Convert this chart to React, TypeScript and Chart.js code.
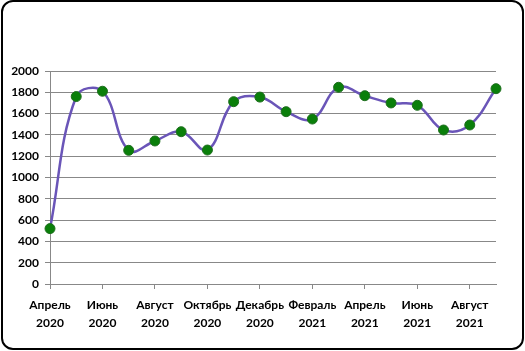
import React, { useEffect, useRef } from "react";
import { Chart, registerables } from "chart.js";

Chart.register(...registerables);

const months = ["Апрель", "Май", "Июнь", "Июль", "Август", "Сентябрь", "Октябрь", "Ноябрь", "Декабрь", "Январь", "Февраль", "Март", "Апрель", "Май", "Июнь", "Июль", "Август", "Сентябрь"];
const years = ["2020", "2020", "2020", "2020", "2020", "2020", "2020", "2020", "2020", "2021", "2021", "2021", "2021", "2021", "2021", "2021", "2021", "2021"];
const values = [520, 1760, 1810, 1255, 1343, 1430, 1258, 1712, 1755, 1618, 1549, 1847, 1768, 1700, 1678, 1446, 1493, 1834];
const yTicks = { min: 0, max: 2000, step: 200 };

export default function App() {
  const ref = useRef<HTMLCanvasElement | null>(null);
  useEffect(() => {
    document.body.style.margin = "0";
    const labels = months.map((m, i) => [m, years[i]]);
    const chart = new Chart(ref.current!, {
      type: "line",
      data: {
        labels,
        datasets: [
          {
            data: values,
            borderColor: "#6A55B8",
            borderWidth: 2.5,
            tension: 0.4,
            pointBackgroundColor: "#0A7F0A",
            pointBorderColor: "#1E6E1E",
            pointBorderWidth: 1,
            pointRadius: 5,
            clip: false as any,
          },
        ],
      },
      options: {
        animation: false,
        responsive: false,
        maintainAspectRatio: false,
        layout: { padding: { top: 71, right: 29, left: 0, bottom: 0 } },
        plugins: { legend: { display: false }, tooltip: { enabled: false } },
        scales: {
          x: {
            offset: false,
            afterFit: (s: any) => {
              s.height = 67;
            },
            border: { color: "#888888", width: 1 },
            grid: {
              drawOnChartArea: false,
              drawTicks: true,
              tickLength: 5,
              color: (ctx: any) => (ctx.index % 2 === 0 ? "#888888" : "rgba(0,0,0,0)"),
            },
            ticks: {
              autoSkip: false,
              maxRotation: 0,
              minRotation: 0,
              padding: 7,
              color: "#000",
              font: { family: "Lato", weight: "bold", size: 12, lineHeight: 1.5 },
              callback: (_v: any, i: number) => (i % 2 === 0 ? labels[i] : ""),
            },
          },
          y: {
            min: yTicks.min,
            max: yTicks.max,
            afterFit: (s: any) => {
              s.width = 50;
            },
            border: { color: "#888888", width: 1 },
            grid: { color: "#888888", lineWidth: 1, tickLength: 5 },
            ticks: {
              stepSize: yTicks.step,
              padding: 6,
              color: "#000",
              font: { family: "Lato", weight: "bold", size: 12 },
              callback: (v: any) => String(v),
            },
          },
        },
      },
    });
    return () => chart.destroy();
  }, []);
  return (
    <div style={{ position: "relative", width: 525, height: 351 }}>
      <canvas ref={ref} width={525} height={351} style={{ position: "absolute", left: 0, top: 0 }} />
      <div
        style={{
          position: "absolute",
          left: 1,
          top: 0,
          width: 523,
          height: 350,
          border: "2px solid #000",
          borderRadius: 12,
          boxSizing: "border-box",
          pointerEvents: "none",
        }}
      />
    </div>
  );
}
